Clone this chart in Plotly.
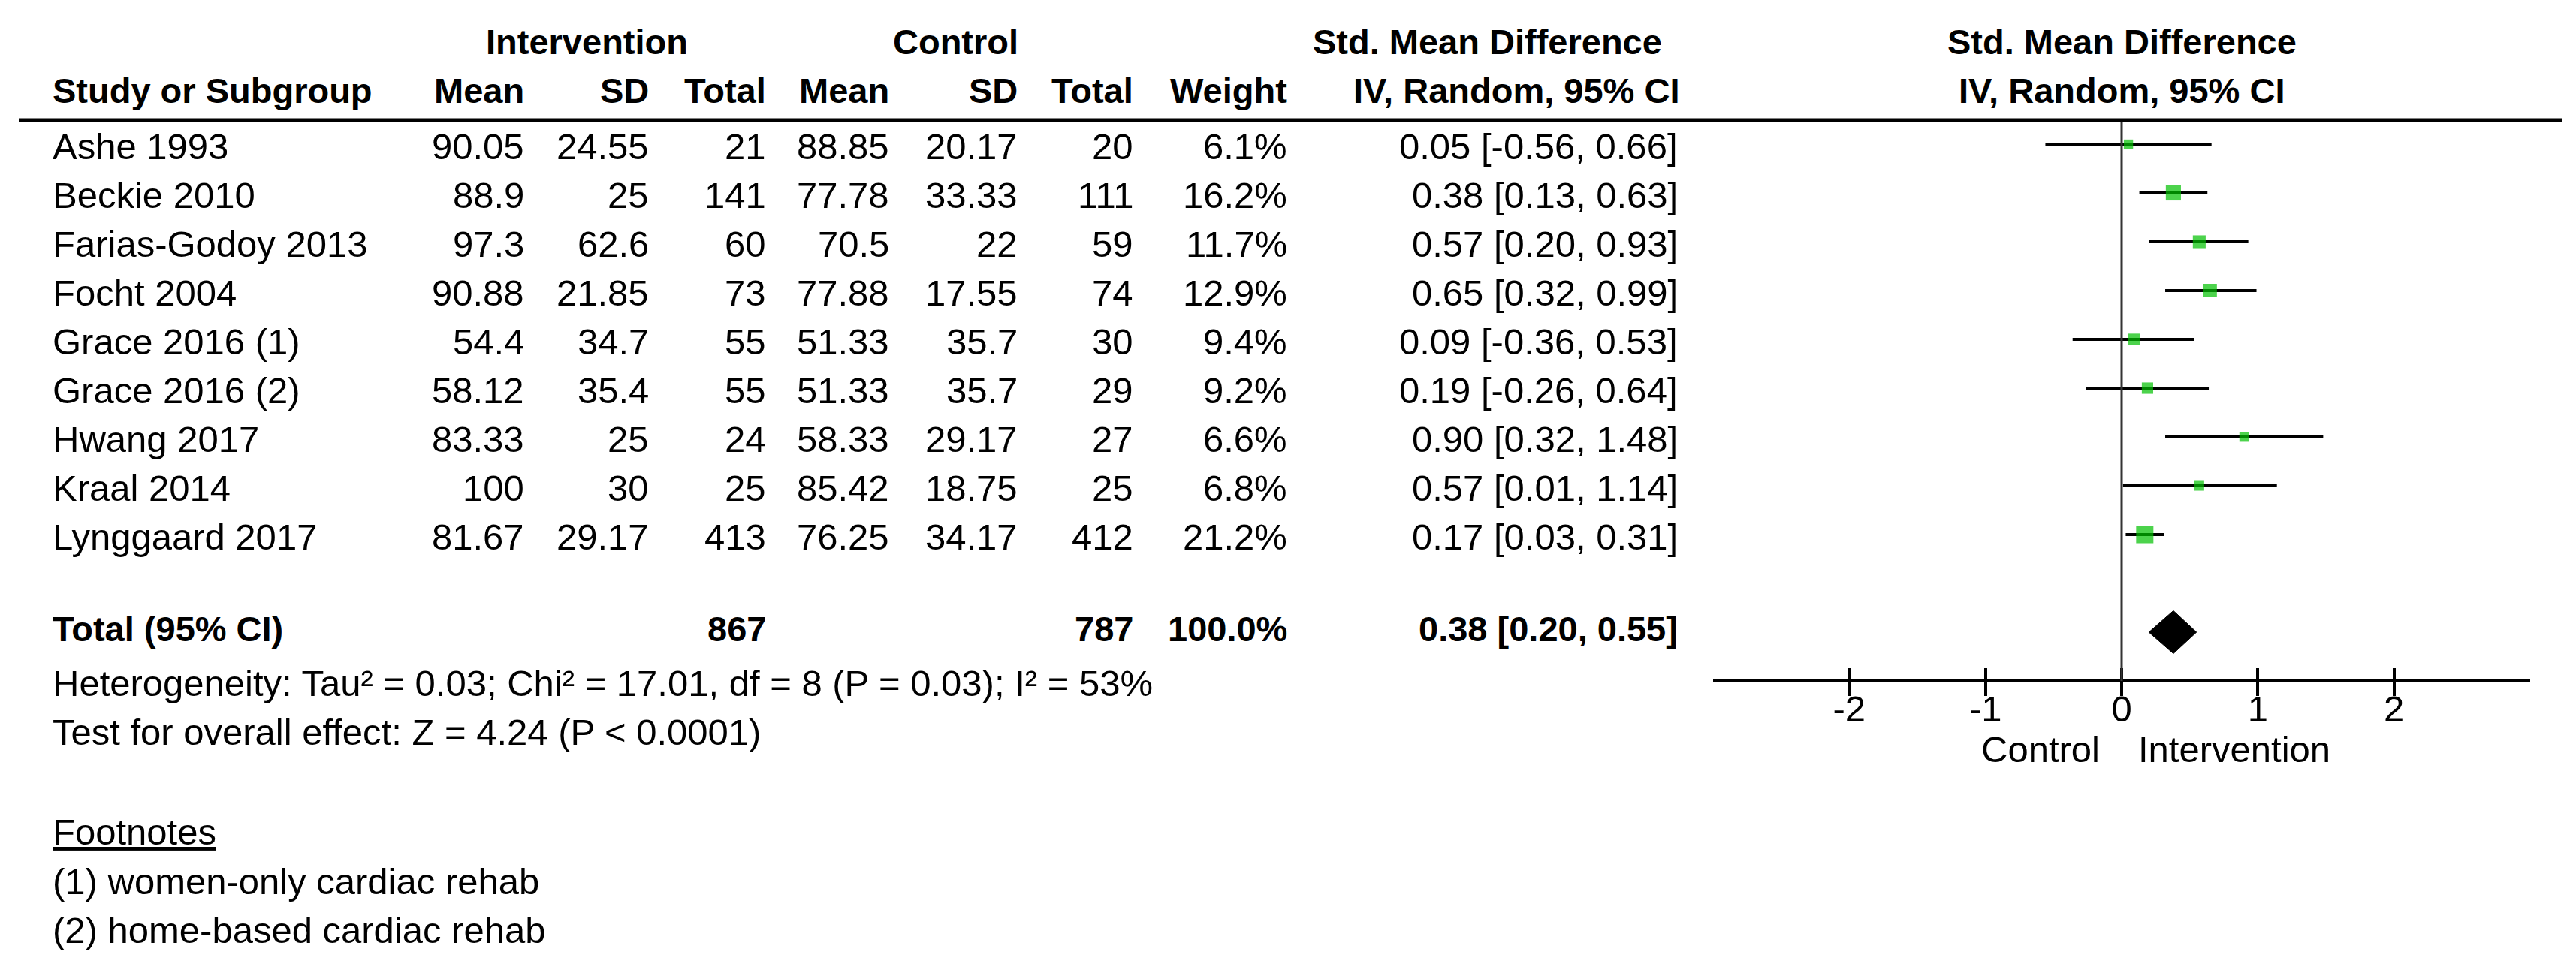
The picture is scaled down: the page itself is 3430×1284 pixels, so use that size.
import math
import plotly.graph_objects as go

# ---------------- data ----------------
studies = ["Ashe 1993", "Beckie 2010", "Farias-Godoy 2013", "Focht 2004",
           "Grace 2016 (1)", "Grace 2016 (2)", "Hwang 2017", "Kraal 2014",
           "Lynggaard 2017"]
int_mean = ["90.05", "88.9", "97.3", "90.88", "54.4", "58.12", "83.33", "100", "81.67"]
int_sd = ["24.55", "25", "62.6", "21.85", "34.7", "35.4", "25", "30", "29.17"]
int_total = [21, 141, 60, 73, 55, 55, 24, 25, 413]
ctl_mean = ["88.85", "77.78", "70.5", "77.88", "51.33", "51.33", "58.33", "85.42", "76.25"]
ctl_sd = ["20.17", "33.33", "22", "17.55", "35.7", "35.7", "29.17", "18.75", "34.17"]
ctl_total = [20, 111, 59, 74, 30, 29, 27, 25, 412]
weight = [6.1, 16.2, 11.7, 12.9, 9.4, 9.2, 6.6, 6.8, 21.2]
smd = [0.05, 0.38, 0.57, 0.65, 0.09, 0.19, 0.90, 0.57, 0.17]
ci_low = [-0.56, 0.13, 0.20, 0.32, -0.36, -0.26, 0.32, 0.01, 0.03]
ci_high = [0.66, 0.63, 0.93, 0.99, 0.53, 0.64, 1.48, 1.14, 0.31]

total_int = 867
total_ctl = 787
total_weight = 100.0
total_smd = 0.38
total_low = 0.20
total_high = 0.55

heterogeneity = "Heterogeneity: Tau² = 0.03; Chi² = 17.01, df = 8 (P = 0.03); I² = 53%"
overall = "Test for overall effect: Z = 4.24 (P &lt; 0.0001)"
footnotes = ["(1) women-only cardiac rehab", "(2) home-based cardiac rehab"]

tick_vals = [-2, -1, 0, 1, 2]
axis_range = [-3, 3]

# ---------------- layout constants ----------------
W, H = 3430, 1284
ROW0_PX, ROW_PX = 184.0, 65.0        # pixel centre of first study row, row pitch
TOTAL_ROW = 10
TXT_SHIFT = -6                        # compensate text baseline placement


def row(px):
    """pixel (from top) -> row units"""
    return (px - ROW0_PX) / ROW_PX


def px_x(px):
    return px / W


FONT = "Liberation Sans, Arial, sans-serif"
FS = 49
FSB = 47
GREEN = "#00C000"

fig = go.Figure()

n = len(studies)
rows = list(range(n))

# CI whiskers
xs, ys = [], []
for i in rows:
    xs += [ci_low[i], ci_high[i], None]
    ys += [i, i, None]
fig.add_trace(go.Scatter(x=xs, y=ys, mode="lines",
                         line=dict(color="black", width=4),
                         hoverinfo="skip", showlegend=False))

# weight squares
fig.add_trace(go.Scatter(x=smd, y=rows, mode="markers",
                         marker=dict(symbol="square", color=GREEN,
                                     size=[5.0 * math.sqrt(w) for w in weight],
                                     line=dict(width=0)),
                         hoverinfo="skip", showlegend=False))

# pooled diamond
half_h = 0.44
fig.add_trace(go.Scatter(x=[total_low, total_smd, total_high, total_smd, total_low],
                         y=[TOTAL_ROW, TOTAL_ROW - half_h, TOTAL_ROW, TOTAL_ROW + half_h, TOTAL_ROW],
                         mode="lines", fill="toself", fillcolor="black",
                         line=dict(color="black", width=1),
                         hoverinfo="skip", showlegend=False))

# invisible trace to activate overlay axis (inner tick halves)
fig.add_trace(go.Scatter(x=[0], y=[0], xaxis="x2", mode="markers",
                         marker=dict(opacity=0), hoverinfo="skip", showlegend=False))

# zero line
fig.add_shape(type="line", xref="x", yref="y", x0=0, x1=0,
              y0=row(152), y1=row(899),
              line=dict(color="#333333", width=3))

# header rule
fig.add_shape(type="line", xref="paper", yref="y", x0=px_x(17), x1=px_x(3404),
              y0=row(152), y1=row(152), line=dict(color="black", width=5))

ann = []


def txt(text, xpx, ypx, anchor="right", bold=False, size=None):
    ann.append(dict(text=("<b>%s</b>" % text) if bold else text,
                    x=px_x(xpx), xref="paper", y=row(ypx + TXT_SHIFT), yref="y",
                    xanchor=anchor, yanchor="middle", showarrow=False,
                    font=dict(family=FONT, size=size or (FSB if bold else FS), color="black")))


# headers
txt("Intervention", 773, 53, "center", True)
txt("Control", 1264, 53, "center", True)
txt("Std. Mean Difference", 1972, 53, "center", True)
txt("Std. Mean Difference", 2817, 53, "center", True)
txt("Study or Subgroup", 60, 118, "left", True)
col_right = [692, 858, 1014, 1178, 1349, 1503, 1708]
for lab, xr in zip(["Mean", "SD", "Total", "Mean", "SD", "Total", "Weight"], col_right):
    txt(lab, xr, 118, "right", True)
txt("IV, Random, 95% CI", 2011, 118, "center", True)
txt("IV, Random, 95% CI", 2817, 118, "center", True)

# study rows
for i in rows:
    yp = 192.5 + ROW_PX * i
    txt(studies[i], 60, yp, "left")
    vals = [int_mean[i], int_sd[i], str(int_total[i]), ctl_mean[i], ctl_sd[i],
            str(ctl_total[i]), "%.1f%%" % weight[i]]
    for v, xr in zip(vals, col_right):
        txt(v, xr, yp, "right")
    txt("%.2f [%.2f, %.2f]" % (smd[i], ci_low[i], ci_high[i]), 2228, yp, "right")

# total row
tp = 835
txt("Total (95% CI)", 60, tp, "left", True)
txt(str(total_int), 1014, tp, "right", True)
txt(str(total_ctl), 1503, tp, "right", True)
txt("%.1f%%" % total_weight, 1708, tp, "right", True)
txt("%.2f [%.2f, %.2f]" % (total_smd, total_low, total_high), 2228, tp, "right", True)

txt(heterogeneity, 60, 908, "left")
txt(overall, 60, 973, "left")
txt("<u>Footnotes</u>", 60, 1106, "left")
txt(footnotes[0], 60, 1172, "left")
txt(footnotes[1], 60, 1237, "left")

# favours labels
for text, xv, anc in [("Control", -0.15, "right"), ("Intervention", 0.11, "left")]:
    ann.append(dict(text=text, x=xv, xref="x", y=row(996 + TXT_SHIFT), yref="y",
                    xanchor=anc, yanchor="middle", showarrow=False,
                    font=dict(family=FONT, size=FS, color="black")))

dom = [px_x(2273), px_x(3361)]
pos = 1 - 899 / H

fig.update_layout(
    width=W, height=H,
    margin=dict(l=0, r=0, t=0, b=0),
    paper_bgcolor="white", plot_bgcolor="white",
    showlegend=False,
    annotations=ann,
    xaxis=dict(domain=dom, range=axis_range, anchor="free", position=pos,
               showline=True, linecolor="black", linewidth=4,
               ticks="outside", ticklen=18, tickwidth=4, tickcolor="black",
               tickvals=tick_vals, ticktext=[str(v) for v in tick_vals],
               ticklabelstandoff=-25,
               tickfont=dict(family=FONT, size=FS, color="black"),
               showgrid=False, zeroline=False, fixedrange=True),
    xaxis2=dict(domain=dom, range=axis_range, overlaying="x", anchor="free", position=pos,
                showline=False, ticks="inside", ticklen=17, tickwidth=4, tickcolor="black",
                tickvals=tick_vals, showticklabels=False,
                showgrid=False, zeroline=False, fixedrange=True),
    yaxis=dict(domain=[0, 1], range=[row(H), row(0)], visible=False,
               showgrid=False, zeroline=False, fixedrange=True),
)

fig.write_html("out.html")
